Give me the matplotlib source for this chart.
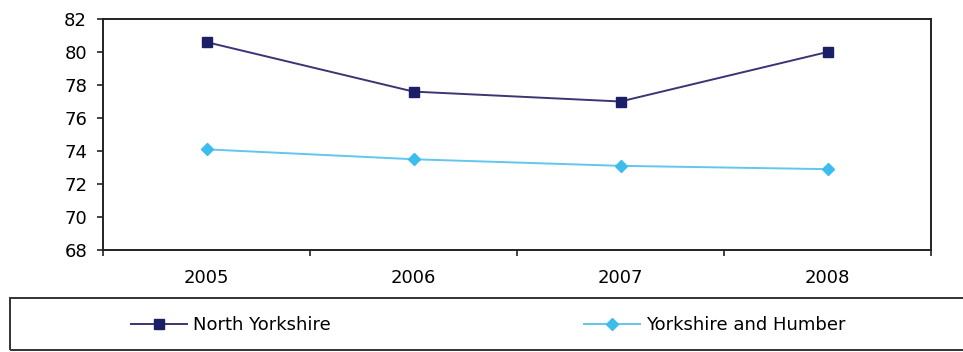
import matplotlib
matplotlib.use("Agg")
import matplotlib.pyplot as plt
from matplotlib.patches import Rectangle

plt.rcParams['font.family'] = ['DejaVu Sans']

years = ["2005", "2006", "2007", "2008"]
north_yorkshire = [80.6, 77.6, 77.0, 80.0]
yorkshire_humber = [74.1, 73.5, 73.1, 72.9]
y_ticks = [68, 70, 72, 74, 76, 78, 80, 82]

NAVY = "#1c1f66"
NAVY_LINE = "#3a3573"
SKY = "#3dbdec"
SKY_LINE = "#62c6ee"
FS = 13

W, H = 963, 352
fig = plt.figure(figsize=(W / 100, H / 100), dpi=100)
ax = fig.add_axes([103 / W, 1 - 250 / H, (931 - 103) / W, (250 - 19) / H])

x = list(range(len(years)))
ax.plot(x, north_yorkshire, color=NAVY_LINE, lw=1.4, marker="s", ms=6.5,
        mfc=NAVY, mec=NAVY, label="North Yorkshire")
ax.plot(x, yorkshire_humber, color=SKY_LINE, lw=1.4, marker="D", ms=6.5,
        mfc=SKY, mec=SKY, label="Yorkshire and Humber")

ax.set_xlim(-0.5, len(years) - 0.5)
ax.set_ylim(68, 82)
ax.set_yticks(y_ticks)
ax.set_yticklabels([str(v) for v in y_ticks], fontsize=FS)
ax.set_xticks([i + 0.5 for i in range(-1, len(years))])
ax.set_xticklabels([])
ax.set_xticks(x, minor=True)
ax.set_xticklabels(years, minor=True, fontsize=FS)
ax.tick_params(axis="x", which="minor", length=0, pad=14)
ax.tick_params(axis="x", which="major", length=4.5, width=1.2, direction="out", color="#222222")
ax.tick_params(axis="y", length=4.5, width=1.2, direction="out", color="#222222", pad=7)
for s in ax.spines.values():
    s.set_linewidth(1.4)
    s.set_color("#222222")

# legend frame along the bottom
fig.patches.append(Rectangle((10 / W, 1 - 350 / H), 1.0, (350 - 298) / H,
                             transform=fig.transFigure, fill=False,
                             edgecolor="#333333", lw=1.4))

handles, labels = ax.get_legend_handles_labels()
for h, lab, xpos in [(handles[0], labels[0], 131), (handles[1], labels[1], 584)]:
    fig.legend([h], [lab], loc="center left",
               bbox_to_anchor=(xpos / W, 1 - 325 / H),
               frameon=False, fontsize=FS, handlelength=3.1,
               handletextpad=0.35, borderaxespad=0, borderpad=0)

fig.savefig("out.png", dpi=100)
